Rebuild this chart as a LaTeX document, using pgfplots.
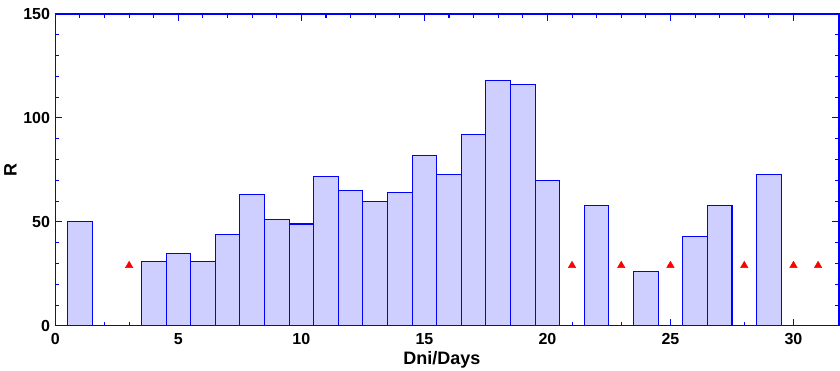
\documentclass[border=0pt]{standalone}
\usepackage{pgfplots}
\pgfplotsset{compat=1.18}
\usepackage{fontspec}
\setmainfont{Liberation Sans}
\definecolor{barfill}{RGB}{207,207,255}
\definecolor{axblue}{RGB}{0,0,255}
\definecolor{mkred}{RGB}{255,0,0}
\begin{document}
\begin{tikzpicture}
\begin{axis}[
  scale only axis,
  width=588pt, height=234pt,
  xmin=0, xmax=31.85, ymin=0, ymax=150,
  xtick={0,5,...,30}, ytick={0,50,100,150},
  minor x tick num=4, minor y tick num=4,
  tick align=inside,
  major tick length=5pt, minor tick length=3pt,
  axis line style={axblue, line width=0.8pt},
  every tick/.style={axblue, line width=0.8pt},
  /pgf/number format/assume math mode=true,
  ticklabel style={font=\bfseries\fontsize{12}{12}\selectfont},
  xticklabel style={anchor=base, yshift=-14.25pt},
  yticklabel style={xshift=-0.5pt},
  xlabel={Dni/Days}, ylabel={R},
  label style={font=\bfseries\fontsize{13.5}{13.5}\selectfont},
  xlabel style={at={(rel axis cs:0.5,0)}, anchor=base, yshift=-29.25pt, xshift=-4pt},
  ylabel style={at={([xshift=-33.6pt]rel axis cs:0,0.5)}, anchor=center},
]
\addplot[ybar, bar width=1, fill=barfill, draw=axblue, line width=0.8pt] coordinates {
(1,50) (4,31) (5,35) (6,31) (7,44) (8,63) (9,51) (10,49) (11,72) (12,65)
(13,60) (14,64) (15,82) (16,73) (17,92) (18,118) (19,116) (20,70)
(22,58) (24,26) (26,43) (27,58) (29,73)
};
\addplot[only marks, mark=triangle*, mark size=3.2pt, mark options={fill=mkred, draw=mkred}] coordinates {
(3,29) (21,29) (23,29) (25,29) (28,29) (30,29) (31,29)
};
\end{axis}
\pgfresetboundingbox
\path ([xshift=-41.5pt,yshift=-33.75pt]current axis.south west) rectangle ([xshift=0.75pt,yshift=10.5pt]current axis.north east);
\end{tikzpicture}
\end{document}
